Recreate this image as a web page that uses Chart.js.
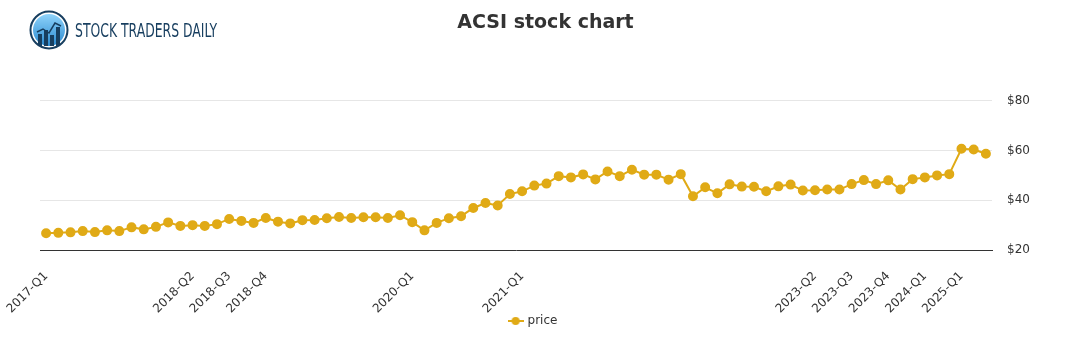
<!DOCTYPE html>
<html>
<head>
<meta charset="utf-8">
<script src="https://cdn.jsdelivr.net/npm/chart.js@4/dist/chart.umd.min.js"></script>
<style>
  html, body { margin: 0; padding: 0; background: #fff; }
  #wrap { position: relative; width: 1091px; height: 350px; }
  #logo { position: absolute; left: 29px; top: 10px; display: flex; align-items: center; }
  #logo span { font-family: "Liberation Sans Narrow", "DejaVu Sans Condensed", sans-serif; font-size: 20px; color: #173e5f; margin-left: 6px; transform: scaleX(0.69); transform-origin: left center; display: inline-block; white-space: nowrap; }
</style>
</head>
<body>
<div id="wrap">
  <canvas id="chart" width="1091" height="350"></canvas>
  <div id="logo">
    <svg width="40" height="40" viewBox="0 0 40 40">
      <defs>
        <linearGradient id="g" x1="0" y1="0" x2="0" y2="1">
          <stop offset="0" stop-color="#8fd3fb"/>
          <stop offset="1" stop-color="#2a8ad0"/>
        </linearGradient>
      </defs>
      <circle cx="20" cy="20" r="18.5" fill="#fff" stroke="#173e5f" stroke-width="2"/>
      <circle cx="20" cy="20" r="16" fill="url(#g)"/>
      <rect x="9" y="24" width="4" height="12" fill="#173e5f"/>
      <rect x="15" y="20" width="4" height="16" fill="#173e5f"/>
      <rect x="21" y="25" width="4" height="11" fill="#173e5f"/>
      <rect x="27" y="17" width="4" height="19" fill="#173e5f"/>
      <polyline points="8,22 14,19 20,23 26,13 32,16" fill="none" stroke="#173e5f" stroke-width="1.5"/>
    </svg>
    <span>STOCK TRADERS DAILY</span>
  </div>
</div>
<script>
// quarter labels only on a few points, the rest stay blank
const labelIndex = [0, 12, 15, 18, 30, 39, 63, 66, 69, 72, 75];
const labelText = ['2017-Q1', '2018-Q2', '2018-Q3', '2018-Q4', '2020-Q1', '2021-Q1',
                   '2023-Q2', '2023-Q3', '2023-Q4', '2024-Q1', '2025-Q1'];

const price = [
  26.7, 26.9, 27.1, 27.6, 27.2, 27.9, 27.6, 29.1, 28.3, 29.3,
  31.1, 29.7, 30.0, 29.7, 30.4, 32.5, 31.7, 30.9, 32.9, 31.4,
  30.7, 32.0, 32.1, 32.8, 33.3, 32.9, 33.2, 33.2, 32.9, 34.0,
  31.2, 27.9, 30.9, 32.8, 33.6, 36.9, 38.9, 37.9, 42.5, 43.6,
  45.9, 46.7, 49.7, 49.2, 50.4, 48.4, 51.6, 49.7, 52.3, 50.3,
  50.3, 48.3, 50.5, 41.6, 45.2, 42.8, 46.4, 45.5, 45.4, 43.6,
  45.6, 46.3, 43.9, 44.0, 44.3, 44.3, 46.5, 48.1, 46.5, 48.0,
  44.3, 48.5, 49.2, 50.0, 50.5, 60.7, 60.4, 58.7
];

const yTicks = [20, 40, 60, 80];

let labels = price.map(() => '');
labelIndex.forEach((idx, i) => { labels[idx] = labelText[i]; });

const gold = 'rgb(224, 170, 22)';
const font = "'DejaVu Sans', sans-serif";

// legend marker: short line with a dot in the middle
const marker = document.createElement('canvas');
marker.width = 16;
marker.height = 10;
let mctx = marker.getContext('2d');
mctx.strokeStyle = gold;
mctx.lineWidth = 2;
mctx.beginPath();
mctx.moveTo(0, 5);
mctx.lineTo(16, 5);
mctx.stroke();
mctx.fillStyle = gold;
mctx.beginPath();
mctx.arc(8, 5, 4, 0, Math.PI * 2);
mctx.fill();

// nudge the legend a bit left of the canvas centre, like the original
const legendShift = {
  id: 'legendShift',
  afterLayout(chart) {
    chart.legend.left -= 12;
    chart.legend.right -= 12;
  }
};

new Chart(document.getElementById('chart'), {
  type: 'line',
  data: {
    labels: labels,
    datasets: [{
      label: 'price',
      data: price,
      borderColor: gold,
      backgroundColor: gold,
      borderWidth: 2,
      pointRadius: 4,
      pointHoverRadius: 4,
      tension: 0
    }]
  },
  plugins: [legendShift],
  options: {
    responsive: false,
    animation: false,
    layout: { padding: { left: 0, right: 0, top: 0, bottom: 13 } },
    plugins: {
      title: {
        display: true,
        text: 'ACSI stock chart',
        color: '#333',
        font: { family: font, size: 19, weight: 'bold' },
        padding: { top: 12, bottom: 66 }
      },
      legend: {
        position: 'bottom',
        labels: {
          usePointStyle: true,
          pointStyle: marker,
          color: '#333',
          font: { family: font, size: 12 },
          padding: 2
        }
      },
      tooltip: { enabled: false }
    },
    scales: {
      x: {
        offset: true,
        afterFit: axis => {
          axis.height = 63;
          axis.paddingLeft = 40;
          axis.paddingRight = 0;
        },
        grid: { display: false, drawTicks: false },
        border: { display: true, color: '#333', width: 1 },
        ticks: {
          autoSkip: false,
          maxRotation: 45,
          minRotation: 45,
          color: '#333',
          padding: 19,
          font: { family: font, size: 12 }
        }
      },
      y: {
        position: 'right',
        min: 20,
        max: 80,
        afterBuildTicks: axis => { axis.ticks = yTicks.map(v => ({ value: v })); },
        afterFit: axis => { axis.width = 99; },
        grid: { color: '#e6e6e6', drawTicks: false },
        border: { display: false },
        ticks: {
          color: '#333',
          padding: 15,
          font: { family: font, size: 12 },
          callback: v => '$' + v
        }
      }
    }
  }
});
</script>
</body>
</html>
